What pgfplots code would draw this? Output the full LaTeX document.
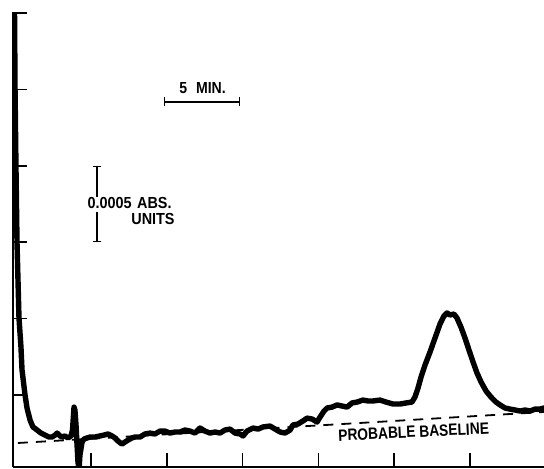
\documentclass[border=0pt]{standalone}
\usepackage{pgfplots}
\pgfplotsset{compat=1.18}
\usepackage{fontspec}
\setmainfont{Liberation Sans}
\usepackage{graphicx}
\usetikzlibrary{arrows.meta}
\begin{document}
\begin{tikzpicture}
\begin{axis}[
  scale only axis, width=265.5pt, height=227.5pt,
  xmin=-0.145, xmax=34.88, ymin=0.288, ymax=30.07,
  axis x line*=bottom, axis y line*=left,
  axis line style={line width=1pt, -},
  xtick={5,10,...,30}, ytick={5,10,...,30},
  xticklabels={}, yticklabels={},
  tick align=inside, major tick length=6.8pt,
  tick style={line width=0.8pt, black},
  clip=true,
]
% probable baseline (dashed)
\addplot[black, line width=0.9pt, dash pattern=on 5pt off 4pt] coordinates {
(0.18,1.86) (22.74,3.17) (34.88,3.89)};
% chromatogram trace (time in min, absorbance in 1e-4 AU)
\addplot[black, line width=2.7pt, line join=round, line cap=round] coordinates {
(-0.05,30.85) (-0.01,24.96) (0.05,19.99) (0.12,14.95) (0.25,10.04) (0.38,8.14)
(0.45,6.64) (0.65,5.00) (0.78,4.15) (0.98,3.36) (1.17,2.91) (1.44,2.71)
(1.70,2.51) (1.97,2.38) (2.23,2.25) (2.43,2.25) (2.63,2.38) (2.76,2.51)
(2.96,2.32) (3.09,2.25) (3.28,2.32) (3.48,2.19) (3.68,2.32) (3.78,2.71)
(3.88,4.21) (3.94,4.02) (4.01,3.04) (4.08,1.73) (4.14,0.62) (4.21,0.10)
(4.27,1.07) (4.41,1.92) (4.54,2.12) (4.74,2.19) (4.94,2.25) (5.26,2.25)
(5.59,2.32) (5.86,2.38) (6.12,2.45) (6.39,2.32) (6.58,2.19) (6.78,1.99)
(7.04,1.79) (7.24,1.92) (7.44,2.05) (7.70,2.19) (7.90,2.25) (8.23,2.25)
(8.56,2.45) (8.89,2.51) (9.22,2.45) (9.55,2.64) (9.88,2.64) (10.21,2.51)
(10.54,2.58) (10.87,2.58) (11.20,2.71) (11.53,2.64) (11.86,2.51) (12.19,2.84)
(12.52,2.64) (12.85,2.51) (13.18,2.58) (13.51,2.51) (13.84,2.71) (14.17,2.77)
(14.50,2.51) (14.83,2.45) (15.03,2.32) (15.29,2.64) (15.69,2.84) (16.02,2.77)
(16.35,2.91) (16.81,2.97) (17.14,2.77) (17.47,2.58) (17.80,2.51) (18.13,2.71)
(18.32,3.04) (18.65,3.10) (18.98,3.30) (19.25,3.49) (19.58,3.43) (19.91,3.23)
(20.11,3.56) (20.37,3.95) (20.57,4.15) (20.90,4.21) (21.23,4.35) (21.56,4.28)
(21.89,4.21) (22.22,4.48) (22.55,4.54) (22.94,4.67) (23.27,4.61) (23.60,4.61)
(24.06,4.67) (24.46,4.54) (24.92,4.41) (25.38,4.41) (25.78,4.48) (26.17,4.54)
(26.37,4.87) (26.57,5.46) (26.77,6.18) (27.03,6.96) (27.36,7.81) (27.69,8.73)
(28.02,9.65) (28.28,10.17) (28.48,10.37) (28.68,10.24) (28.94,10.30) (29.14,10.04)
(29.40,9.45) (29.67,8.73) (29.93,7.95) (30.20,7.16) (30.46,6.44) (30.73,5.85)
(31.06,5.26) (31.38,4.87) (31.71,4.54) (31.98,4.35) (32.31,4.15) (32.64,4.08)
(32.97,4.02) (33.30,3.95) (33.63,4.02) (33.96,3.95) (34.29,4.08) (34.62,4.08)
(34.88,4.15)};
% scale bars
\draw[line width=0.6pt, {Bar[width=4.5pt]}-{Bar[width=4.5pt]}] (axis cs:9.83,24.18) -- (axis cs:14.83,24.18);
\draw[line width=0.6pt, {Bar[width=4pt]}-] (axis cs:5.40,19.99) -- (axis cs:5.40,17.96);
\draw[line width=0.6pt, -{Bar[width=4pt]}] (axis cs:5.40,16.98) -- (axis cs:5.40,15.01);
% labels
\node[anchor=base, inner sep=0pt, font=\bfseries\fontsize{8}{9}\selectfont] at (axis cs:12.36,24.76) {\scalebox{0.88}[1]{5\hspace{5pt}MIN.}};
\node[anchor=base east, inner sep=0pt, font=\bfseries\fontsize{8}{9}\selectfont] at (axis cs:10.34,17.24) {\scalebox{0.9}[1]{0.0005\hspace{3pt}ABS.}};
\node[anchor=base east, inner sep=0pt, font=\bfseries\fontsize{8}{9}\selectfont] at (axis cs:10.54,16.13) {\scalebox{0.9}[1]{UNITS}};
\node[anchor=center, inner sep=0pt, rotate=2.7, font=\bfseries\fontsize{8.2}{9}\selectfont] at (axis cs:26.28,2.58) {\scalebox{0.84}[1]{PROBABLE BASELINE}};
\end{axis}
\pgfresetboundingbox
\path ([xshift=-6.5pt,yshift=-0.5pt]current axis.south west) rectangle ([yshift=6pt]current axis.north east);
\end{tikzpicture}
\end{document}
